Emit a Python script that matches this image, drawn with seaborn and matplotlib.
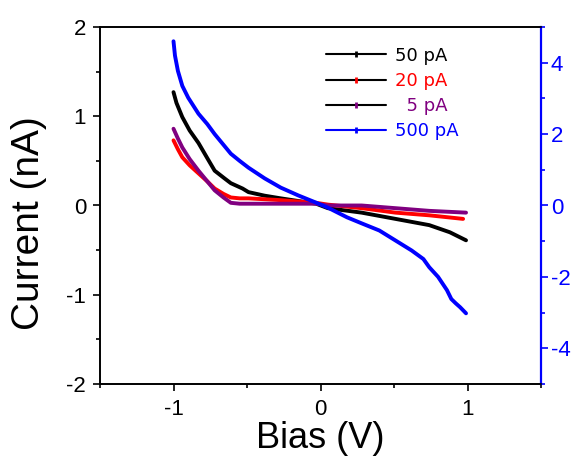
import numpy as np
import pandas as pd
import matplotlib
matplotlib.use("Agg")
import matplotlib.pyplot as plt
from matplotlib.lines import Line2D
from matplotlib.ticker import MultipleLocator
import seaborn as sns

# Data
bias_50 = [-1.0, -0.98, -0.94, -0.89, -0.83, -0.77, -0.72, -0.65, -0.61, -0.53, -0.49, -0.38,
           -0.27, -0.15, -0.03, 0.05, 0.28, 0.51, 0.74, 0.88, 0.99]
cur_50 = [1.27, 1.15, 0.99, 0.84, 0.70, 0.53, 0.39, 0.30, 0.25, 0.19, 0.15, 0.11,
          0.08, 0.05, 0.02, -0.03, -0.08, -0.15, -0.22, -0.30, -0.39]

bias_20 = [-1.0, -0.97, -0.94, -0.89, -0.83, -0.77, -0.72, -0.66, -0.61, -0.55, -0.49, -0.27,
           -0.03, 0.05, 0.28, 0.51, 0.74, 0.97]
cur_20 = [0.73, 0.63, 0.54, 0.45, 0.36, 0.27, 0.19, 0.13, 0.09, 0.08, 0.08, 0.06,
          0.03, 0.01, -0.03, -0.08, -0.11, -0.15]

bias_5 = [-1.0, -0.97, -0.94, -0.89, -0.83, -0.77, -0.72, -0.66, -0.61, -0.55, -0.49, -0.27,
          -0.03, 0.05, 0.28, 0.51, 0.74, 0.99]
cur_5 = [0.86, 0.75, 0.65, 0.52, 0.39, 0.27, 0.17, 0.09, 0.03, 0.02, 0.02, 0.02,
         0.02, 0.0, 0.0, -0.03, -0.06, -0.08]

bias_500 = [-1.0, -0.99, -0.97, -0.94, -0.90, -0.83, -0.77, -0.72, -0.66, -0.61, -0.55, -0.49,
            -0.38, -0.27, -0.15, -0.03, 0.05, 0.18, 0.28, 0.40, 0.51, 0.62, 0.70, 0.74,
            0.80, 0.86, 0.89, 0.92, 0.95, 0.99]
cur_500 = [4.6, 4.2, 3.77, 3.35, 3.02, 2.57, 2.28, 2.0, 1.7, 1.45, 1.25, 1.06,
           0.76, 0.50, 0.28, 0.08, -0.06, -0.33, -0.5, -0.70, -0.98, -1.26, -1.5, -1.73,
           -2.0, -2.37, -2.62, -2.74, -2.85, -3.02]

labels = ["50 pA", "20 pA", "  5 pA", "500 pA"]
colors = ["black", "red", "#800080", "blue"]

sns.set_style("ticks")
plt.rcParams["font.family"] = ["Liberation Sans", "DejaVu Sans"]
plt.rcParams["axes.unicode_minus"] = False
plt.rcParams["text.color"] = "black"
plt.rcParams["axes.labelcolor"] = "black"
plt.rcParams["xtick.color"] = "black"
plt.rcParams["ytick.color"] = "black"

fig = plt.figure(figsize=(5.77, 4.61), dpi=100)
ax = fig.add_axes([100 / 577, 1 - 384 / 461, 441 / 577, 357 / 461])
ax2 = ax.twinx()

lw = 2.8
df50 = pd.DataFrame({"x": bias_50, "y": cur_50})
df20 = pd.DataFrame({"x": bias_20, "y": cur_20})
df5 = pd.DataFrame({"x": bias_5, "y": cur_5})
df500 = pd.DataFrame({"x": bias_500, "y": cur_500})

sns.lineplot(data=df50, x="x", y="y", ax=ax, color=colors[0], lw=lw, sort=False)
sns.lineplot(data=df20, x="x", y="y", ax=ax, color=colors[1], lw=lw, sort=False)
sns.lineplot(data=df5, x="x", y="y", ax=ax, color=colors[2], lw=lw, sort=False)
sns.lineplot(data=df500, x="x", y="y", ax=ax2, color=colors[3], lw=lw, sort=False)

ax.set_xlim(-1.5, 1.5)
ax.set_ylim(-2, 2)
ax2.set_ylim(-5, 5)

ax.xaxis.set_major_locator(MultipleLocator(1))
ax.xaxis.set_minor_locator(MultipleLocator(0.5))
ax.yaxis.set_major_locator(MultipleLocator(1))
ax.yaxis.set_minor_locator(MultipleLocator(0.5))
ax2.yaxis.set_major_locator(MultipleLocator(2))
ax2.yaxis.set_minor_locator(MultipleLocator(1))

ax.set_xlabel("Bias (V)", fontsize=26, color="black")
ax.set_ylabel("Current (nA)", fontsize=28, color="black")
ax.xaxis.set_label_coords(0.5, -0.103)
ax.yaxis.set_label_coords(-0.12, 0.45)
ax2.set_ylabel("")

ax.tick_params(axis="both", which="major", direction="out", length=5, width=1.2,
               labelsize=16, colors="black", pad=5)
ax.tick_params(axis="x", which="major", pad=6)
ax.tick_params(axis="both", which="minor", direction="out", length=3, width=1.2, colors="black")
ax.tick_params(axis="y", which="both", right=False)
ax.tick_params(axis="x", which="both", top=False)
ax2.tick_params(axis="y", which="major", direction="out", length=5, width=1.2,
                labelsize=16, colors="blue", pad=2)
ax2.tick_params(axis="y", which="minor", direction="out", length=3, width=1.2, colors="blue")

for sp in ["left", "bottom", "top"]:
    ax.spines[sp].set_linewidth(1.2)
    ax.spines[sp].set_color("black")
    ax2.spines[sp].set_linewidth(1.2)
    ax2.spines[sp].set_color("black")
ax2.spines["right"].set_color("blue")
ax2.spines["right"].set_linewidth(1.6)
ax.spines["right"].set_visible(False)

handles = [
    Line2D([], [], color="black", lw=1.5, marker="|", markersize=5, markeredgecolor=colors[0], markeredgewidth=2),
    Line2D([], [], color="black", lw=1.5, marker="|", markersize=5, markeredgecolor=colors[1], markeredgewidth=2),
    Line2D([], [], color="black", lw=1.5, marker="|", markersize=5, markeredgecolor=colors[2], markeredgewidth=2),
    Line2D([], [], color="blue", lw=1.5, marker="|", markersize=5, markeredgecolor=colors[3], markeredgewidth=2),
]
leg = ax2.legend(handles, labels, loc="upper left", bbox_to_anchor=(0.497, 0.965),
                 frameon=False, handlelength=3.3, handletextpad=0.5,
                 labelspacing=0.4, borderaxespad=0,
                 prop={"family": ["DejaVu Sans"], "size": 13})
for t, c in zip(leg.get_texts(), colors):
    t.set_color(c)

fig.savefig("out.png", dpi=100)
